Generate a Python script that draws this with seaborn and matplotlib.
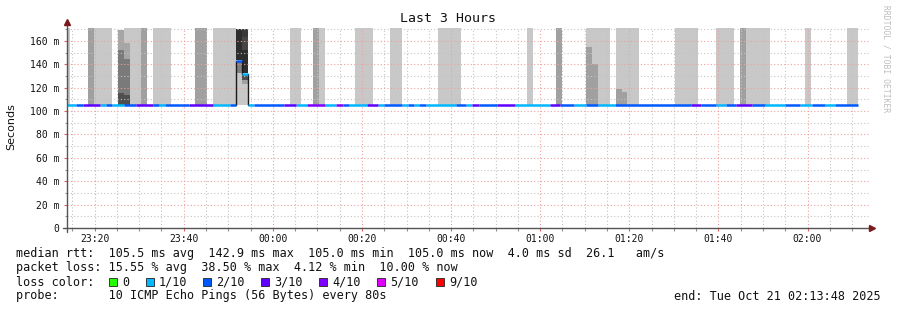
import numpy as np
import pandas as pd
import seaborn as sns
import matplotlib
matplotlib.use("Agg")
import matplotlib.pyplot as plt
import matplotlib.dates as mdates
from matplotlib.patches import Rectangle
from matplotlib.lines import Line2D
from matplotlib.ticker import MultipleLocator, FuncFormatter

# ---------------- data ----------------
START = pd.Timestamp("2025-10-20 23:13:48")
SPAN_MIN = 180
Y_MAX = 171.1

LIGHT = "#c8c8c8"
MID = "#a0a0a0"

# smoke bands: minutes after START, rtt range in ms, grey shade
band_t0 = [0.00, 6.06, 14.14, 19.30, 32.76, 50.04, 56.55, 64.63, 72.49, 83.26,
           103.23, 116.47, 123.20, 136.45, 145.65, 152.38, 165.62, 175.04,
           4.71, 16.61, 28.73, 55.21, 109.74, 151.03,
           116.47, 117.82, 123.20, 124.55,
           11.45, 11.45, 11.45,
           12.79, 12.79, 12.79, 12.79,
           37.93, 37.93, 37.93,
           39.27, 39.27, 39.27, 39.27, 39.27, 39.27]
band_t1 = [0.67, 10.03, 16.61, 23.34, 37.93, 52.51, 57.90, 68.67, 75.18, 88.42,
           104.58, 121.86, 128.37, 141.61, 149.69, 157.77, 166.97, 177.51,
           6.06, 17.95, 31.42, 56.55, 111.09, 152.38,
           117.82, 119.17, 124.55, 125.67,
           12.79, 12.79, 12.79,
           14.14, 14.14, 14.14, 14.14,
           39.27, 39.27, 39.27,
           40.62, 40.62, 40.62, 40.62, 40.62, 40.62]
band_lo = [105] * 18 + [105] * 6 + [105, 105, 105, 105,
           105, 115.7, 152.0,
           105, 114.0, 144.8, 158.5,
           105, 133.0, 143.8,
           105, 123.4, 126.5, 133.0, 152.0, 163.0]
band_hi = [200] * 18 + [200] * 6 + [155, 140, 119, 116,
           115.7, 152.0, 169.0,
           114.0, 144.8, 158.5, 200,
           133.0, 142.0, 170.0,
           123.4, 126.5, 131.0, 152.0, 163.0, 170.0]
band_grey = [LIGHT] * 18 + [MID] * 6 + [MID, MID, MID, MID,
             "#4f4f4f", "#7a7a7a", "#a6a6a6",
             "#4f4f4f", "#7a7a7a", "#a6a6a6", LIGHT,
             LIGHT, "#808080", "#2e2e2e",
             LIGHT, MID, "#505050", "#2e2e2e", "#474747", "#3a3a3a"]

# median rtt line: run edges (minutes), loss per run (x/10), median per run (ms)
run_edges = [0.0, 2.02, 3.59, 7.41, 8.75, 10.10, 12.79, 15.49, 19.30, 20.65,
             21.99, 27.38, 32.76, 36.58, 37.93, 39.27, 40.62, 41.97, 48.70, 51.39,
             53.86, 57.90, 60.37, 61.94, 63.29, 67.33, 69.79, 71.14, 75.18, 76.53,
             77.87, 78.99, 80.57, 87.30, 89.54, 90.89, 92.46, 96.50, 100.54, 108.39,
             110.64, 113.78, 116.47, 119.17, 122.98, 139.99, 142.24, 145.60, 147.85,
             150.09, 153.73, 156.64, 161.13, 164.50, 167.19, 170.11, 172.35, 177.51]
run_loss = [1, 2, 3, 1, 2, 1, 2, 3, 2, 1,
            2, 3, 1, 2, 2, 1, 1, 2, 3, 1,
            4, 1, 4, 2, 1, 3, 1, 2, 1, 2,
            1, 2, 1, 2, 1, 3, 2, 3, 1, 3,
            2, 1, 2, 1, 2, 3, 2, 1, 2, 3,
            2, 1, 2, 1, 2, 1, 2]
run_rtt = [105.0, 105.0, 105.0, 105.0, 105.0, 105.0, 105.0, 105.0, 105.0, 105.0,
           105.0, 105.0, 105.0, 105.0, 142.9, 132.0, 105.0, 105.0, 105.0, 105.0,
           105.0, 105.0, 105.0, 105.0, 105.0, 105.0, 105.0, 105.0, 105.0, 105.0,
           105.0, 105.0, 105.0, 105.0, 105.0, 105.0, 105.0, 105.0, 105.0, 105.0,
           105.0, 105.0, 105.0, 105.0, 105.0, 105.0, 105.0, 105.0, 105.0, 105.0,
           105.0, 105.0, 105.0, 105.0, 105.0, 105.0, 105.0]

loss_labels = ["0", "1/10", "2/10", "3/10", "4/10", "5/10", "9/10"]
loss_colors = ["#26ff00", "#00b8ff", "#0059ff", "#5e00ff", "#7e00ff", "#dd00ff", "#ff0000"]
loss_index = {0: "0", 1: "1/10", 2: "2/10", 3: "3/10", 4: "4/10", 5: "5/10", 9: "9/10"}

y_ticks = [0, 20, 40, 60, 80, 100, 120, 140, 160]

title = "Last 3 Hours"
stat_lines = [
    "median rtt:  105.5 ms avg  142.9 ms max  105.0 ms min  105.0 ms now  4.0 ms sd  26.1   am/s",
    "packet loss: 15.55 % avg  38.50 % max  4.12 % min  10.00 % now",
]
probe_line = "probe:       10 ICMP Echo Pings (56 Bytes) every 80s"
end_line = "end: Tue Oct 21 02:13:48 2025"

# ---------------- drawing ----------------
sns.set_theme(style="white")
MONO = "DejaVu Sans Mono"
plt.rcParams["font.family"] = ["DejaVu Sans"]

W, H = 897, 310
fig = plt.figure(figsize=(W / 100, H / 100), dpi=100, facecolor="white")
ax = fig.add_axes([67 / W, 82 / H, 802 / W, 200 / H])
ax.set_facecolor("white")


def tm(m):
    return START + pd.to_timedelta(m, unit="min")


# smoke
for t0, t1, lo, hi, g in zip(band_t0, band_t1, band_lo, band_hi, band_grey):
    ax.fill_between([tm(t0), tm(t1)], [lo, lo], [hi, hi], color=g, lw=0,
                    zorder=1, antialiased=False)

# median line via seaborn
rows = []
for i in range(len(run_loss)):
    lab = loss_index[run_loss[i]]
    rows.append(dict(time=tm(run_edges[i]), rtt=run_rtt[i], loss=lab, seg=i))
    rows.append(dict(time=tm(run_edges[i + 1]), rtt=run_rtt[i], loss=lab, seg=i))
seg_df = pd.DataFrame(rows)
palette = dict(zip(loss_labels, loss_colors))
sns.lineplot(data=seg_df, x="time", y="rtt", hue="loss", units="seg",
             estimator=None, palette=palette, linewidth=1.8, legend=False,
             ax=ax, sort=False, zorder=4, solid_capstyle="butt")

# vertical joins where the median changes
for i in range(1, len(run_rtt)):
    if run_rtt[i] != run_rtt[i - 1]:
        ax.plot([tm(run_edges[i]), tm(run_edges[i])],
                [run_rtt[i - 1], run_rtt[i]], color="#1a1a1a", lw=1.0, zorder=3.5)

ax.set_xlim(tm(0), tm(SPAN_MIN))
ax.set_ylim(0, Y_MAX)

# axes / grid
ax.xaxis.set_major_locator(mdates.MinuteLocator(byminute=[0, 20, 40]))
ax.xaxis.set_minor_locator(mdates.MinuteLocator(byminute=range(0, 60, 5)))
ax.xaxis.set_major_formatter(mdates.DateFormatter("%H:%M"))
ax.set_yticks(y_ticks)
ax.yaxis.set_minor_locator(MultipleLocator(10))
ax.yaxis.set_major_formatter(FuncFormatter(lambda v, p: "0" if v == 0 else f"{v:.0f} m"))

ax.set_axisbelow(False)
ax.grid(which="major", color="#f0a0a0", linestyle=(0, (1, 2)), linewidth=0.8, zorder=2.5)
ax.grid(which="minor", color="#c4c4c4", linestyle=(0, (1, 2)), linewidth=0.8, zorder=2.5)

for s in ax.spines.values():
    s.set_visible(False)

ax.tick_params(axis="x", which="major", length=2.5, width=0.8, color="#e06060",
               pad=2, labelsize=7)
ax.tick_params(axis="x", which="minor", length=1.8, width=0.8, color="#909090")
ax.tick_params(axis="y", which="major", length=2.0, width=0.8, color="#e06060",
               pad=3.5, labelsize=7)
ax.tick_params(axis="y", which="minor", length=1.5, width=0.8, color="#909090")
ax.tick_params(left=True, bottom=True, which="both")
for lab in ax.get_xticklabels() + ax.get_yticklabels():
    lab.set_family(MONO)
    lab.set_color("#111111")
ax.set_xlabel("")
ax.set_ylabel("")

# axis lines with arrows
ax.add_line(Line2D([0, 0], [-4 / 200, 1.03], transform=ax.transAxes, color="#555555",
                   lw=1.0, clip_on=False, zorder=5))
ax.add_line(Line2D([-4 / 802, 1 + 2 / 802], [0, 0], transform=ax.transAxes,
                   color="#555555", lw=1.0, clip_on=False, zorder=5))
ax.plot([0], [1.03], marker="^", ms=4.5, color="#7a1a1a", transform=ax.transAxes,
        clip_on=False, zorder=6)
ax.plot([1 + 3 / 802], [0], marker=">", ms=4.5, color="#7a1a1a",
        transform=ax.transAxes, clip_on=False, zorder=6)

# texts
fig.text(448 / W, 1 - 19 / H, title, ha="center", va="center", fontsize=9.5,
         family=MONO, color="#111111")
fig.text(11 / W, 1 - 127 / H, "Seconds", rotation=90, ha="center", va="center",
         fontsize=8, color="#111111")
fig.text(886 / W, 1 - 5 / H, "RRDTOOL / TOBI OETIKER", rotation=270, ha="center",
         va="top", fontsize=5.8, family=MONO, color="#bdbdbd")

for k, line in enumerate(stat_lines):
    fig.text(16 / W, 1 - (254 + 14 * k) / H, line, ha="left", va="center",
             fontsize=8.5, family=MONO, color="#111111")
fig.text(16 / W, 1 - 282 / H, "loss color:", ha="left", va="center",
         fontsize=8.5, family=MONO, color="#111111")
sq_x = [109, 146, 203, 261, 319, 377, 436]
for x, lab, c in zip(sq_x, loss_labels, loss_colors):
    fig.patches.append(Rectangle((x / W, 1 - 286 / H), 8 / W, 8 / H,
                                 transform=fig.transFigure, facecolor=c,
                                 edgecolor="#222222", lw=0.6))
    fig.text((x + 13) / W, 1 - 282 / H, lab, ha="left", va="center",
             fontsize=8.5, family=MONO, color="#111111")
fig.text(16 / W, 1 - 296 / H, probe_line, ha="left", va="center",
         fontsize=8.5, family=MONO, color="#111111")
fig.text(881 / W, 1 - 296 / H, end_line, ha="right", va="center",
         fontsize=8.5, family=MONO, color="#111111")

fig.savefig("out.png", dpi=100, facecolor="white")
